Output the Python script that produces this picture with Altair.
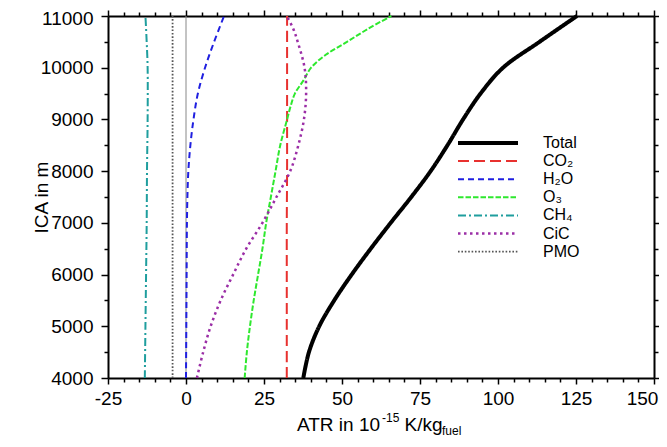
import altair as alt
import pandas as pd

# ---------------- data ----------------
ALT_TOTAL = [4000, 4500, 5000, 5500, 6000, 6500, 7000, 7500, 8000, 8500, 9000, 9500, 10000, 10500, 11000]
ATR_TOTAL = [37.6, 39.4, 42.7, 47.5, 53.1, 59.2, 65.6, 72.2, 78.4, 83.8, 88.8, 94.4, 101.6, 113.3, 125.3]

ALT_CO2 = [4000, 5000, 6000, 7000, 8000, 9000, 10000, 11000]
ATR_CO2 = [32.3, 32.3, 32.3, 32.3, 32.4, 32.4, 32.4, 32.4]

ALT_H2O = [4000, 5000, 6000, 7000, 7500, 8000, 8500, 9000, 9500, 10000, 10500, 11000]
ATR_H2O = [0.0, 0.1, 0.2, 0.3, 0.45, 0.75, 1.4, 2.4, 3.8, 6.1, 9.0, 12.2]

ALT_O3 = [4000, 4500, 5000, 5500, 6000, 6500, 7000, 7500, 8000, 8500, 9000, 9250, 9500, 9750, 10000, 10250, 10500, 10750, 11000]
ATR_O3 = [18.8, 19.5, 20.5, 21.7, 23.1, 24.5, 25.7, 27.2, 28.7, 30.2, 32.4, 33.5, 34.9, 37.6, 40.1, 44.8, 51.6, 58.3, 65.8]

ALT_CH4 = [4000, 5000, 6000, 7000, 8000, 9000, 10000, 10500, 11000]
ATR_CH4 = [-13.2, -13.0, -12.8, -12.6, -12.5, -12.3, -12.3, -12.6, -13.0]

ALT_CIC = [4000, 4500, 5000, 5500, 6000, 6500, 7000, 7500, 8000, 8500, 9000, 9500, 10000, 10500, 10750, 11000]
ATR_CIC = [3.5, 5.5, 7.9, 11.1, 15.1, 19.3, 24.5, 29.0, 33.4, 36.0, 37.8, 38.5, 38.0, 35.8, 34.4, 32.3]

ALT_PMO = [4000, 5000, 6000, 7000, 8000, 9000, 10000, 11000]
ATR_PMO = [-4.3, -4.3, -4.3, -4.3, -4.3, -4.3, -4.3, -4.3]

SERIES = ["Total", "CO2", "H2O", "O3", "CH4", "CiC", "PMO"]
LEGEND_LABELS = ["Total", "CO₂", "H₂O", "O₃", "CH₄", "CiC", "PMO"]
COLORS = ["#000000", "#e8312f", "#1f1fe0", "#2ee82e", "#1f9e9e", "#9b2ea6", "#555555"]
DASHES = [[1, 0], [11, 5], [6, 4], [5.5, 2], [8, 3, 2, 3], [2.5, 3.5], [1.6, 1.8]]
WIDTHS = [4, 2, 2, 2, 2, 2.5, 1.8]

X_TICKS = list(range(-25, 151, 5))
Y_TICKS = list(range(4000, 11001, 500))

FONT = "Liberation Sans, Arial, Helvetica, sans-serif"

pairs = [(ALT_TOTAL, ATR_TOTAL), (ALT_CO2, ATR_CO2), (ALT_H2O, ATR_H2O), (ALT_O3, ATR_O3),
         (ALT_CH4, ATR_CH4), (ALT_CIC, ATR_CIC), (ALT_PMO, ATR_PMO)]
rows = []
for name, (alts, vals) in zip(SERIES, pairs):
    for a, v in zip(alts, vals):
        rows.append({"series": name, "alt": a, "atr": v})
df = pd.DataFrame(rows)

X_SCALE = alt.Scale(domain=[-25, 150], nice=False, zero=False)
Y_SCALE = alt.Scale(domain=[4000, 11000], nice=False, zero=False)


def x_axis(orient, labels):
    return alt.Axis(
        orient=orient, values=X_TICKS, labels=labels, title=None, grid=False,
        labelExpr="datum.value % 25 === 0 ? '' + datum.value : ''",
        tickSize={"condition": {"test": "datum.value % 25 === 0", "value": 6}, "value": 4},
        labelOffset={"condition": {"test": "datum.value === 150", "value": -12}, "value": 0},
        labelFlush=False, labelOverlap=False, labelPadding=5,
    )


def y_axis(orient, labels, title=None):
    kw = dict(
        orient=orient, values=Y_TICKS, labels=labels, grid=False,
        labelExpr="datum.value % 1000 === 0 ? '' + datum.value : ''",
        tickSize={"condition": {"test": "datum.value % 1000 === 0", "value": 7}, "value": 4},
        labelOffset={"condition": {"test": "datum.value === 11000", "value": 2}, "value": 0},
        labelFlush=False, labelOverlap=False, labelPadding=8,
    )
    if title:
        kw.update(title=title, titleX=-67, titleY=181, titleAlign="center",
                  titleBaseline="middle", titleFontSize=19, titleFontWeight="normal",
                  titleFont=FONT, titleColor="black")
    else:
        kw.update(title=None)
    return alt.Axis(**kw)


layers = []

# zero line
zero = alt.Chart(pd.DataFrame({"x": [0]})).mark_rule(color="#888888", strokeWidth=1).encode(
    x=alt.X("x:Q", scale=X_SCALE, axis=None)
)
layers.append(zero)

# data lines (Total drawn last on top)
order = [1, 2, 3, 4, 5, 6, 0]
for i in order:
    name = SERIES[i]
    line = alt.Chart(df[df.series == name]).mark_line(
        color=COLORS[i], strokeDash=DASHES[i], strokeWidth=WIDTHS[i],
        interpolate="catmull-rom", strokeCap="butt",
    ).encode(
        x=alt.X("atr:Q", scale=X_SCALE, axis=None),
        y=alt.Y("alt:Q", scale=Y_SCALE, axis=None),
        order=alt.Order("alt:Q"),
    )
    layers.append(line)

# axes bottom/left
axes_bl = alt.Chart(df).mark_point(opacity=0).encode(
    x=alt.X("atr:Q", scale=X_SCALE, axis=x_axis("bottom", True)),
    y=alt.Y("alt:Q", scale=Y_SCALE, axis=y_axis("left", True, "ICA in m")),
)
# axes top/right
axes_tr = alt.Chart(df).mark_point(opacity=0).encode(
    x=alt.X("atr:Q", scale=X_SCALE, axis=x_axis("top", False)),
    y=alt.Y("alt:Q", scale=Y_SCALE, axis=y_axis("right", False)),
)
layers += [axes_bl, axes_tr]

# legend
for i in range(len(SERIES)):
    yy = 127 + 18.1 * i
    one = pd.DataFrame({"k": [0]})
    layers.append(
        alt.Chart(one).mark_rule(color=COLORS[i], strokeDash=DASHES[i], strokeWidth=WIDTHS[i], strokeCap="butt")
        .encode(x=alt.value(350), x2=alt.value(410), y=alt.value(yy))
    )
    layers.append(
        alt.Chart(one).mark_text(align="left", baseline="middle", fontSize=16, font=FONT, color="black")
        .encode(x=alt.value(435), y=alt.value(yy), text=alt.value(LEGEND_LABELS[i]))
    )

# x-axis title with superscript/subscript
title_parts = [
    ("ATR in 10", 189, 415, 19),
    ("-15", 274, 406, 12),
    ("K/kg", 296.5, 415, 19),
    ("fuel", 334, 419, 12),
]
for txt, xx, yy, fs in title_parts:
    layers.append(
        alt.Chart(pd.DataFrame({"k": [0]})).mark_text(
            align="left", baseline="alphabetic", fontSize=fs, font=FONT, color="black"
        ).encode(x=alt.value(xx), y=alt.value(yy), text=alt.value(txt))
    )

chart = alt.layer(*layers).resolve_axis(x="independent", y="independent").properties(
    width=546, height=362,
    autosize=alt.AutoSizeParams(type="none"),
    padding={"left": 100, "top": 8, "right": 5, "bottom": 61},
).configure_view(stroke=None).configure_axis(
    domainColor="black", domainWidth=2, tickColor="black", tickWidth=1.5,
    labelFont=FONT, labelFontSize=19, labelColor="black",
)

chart.save("out.html", embed_options={"renderer": "svg", "actions": False})
